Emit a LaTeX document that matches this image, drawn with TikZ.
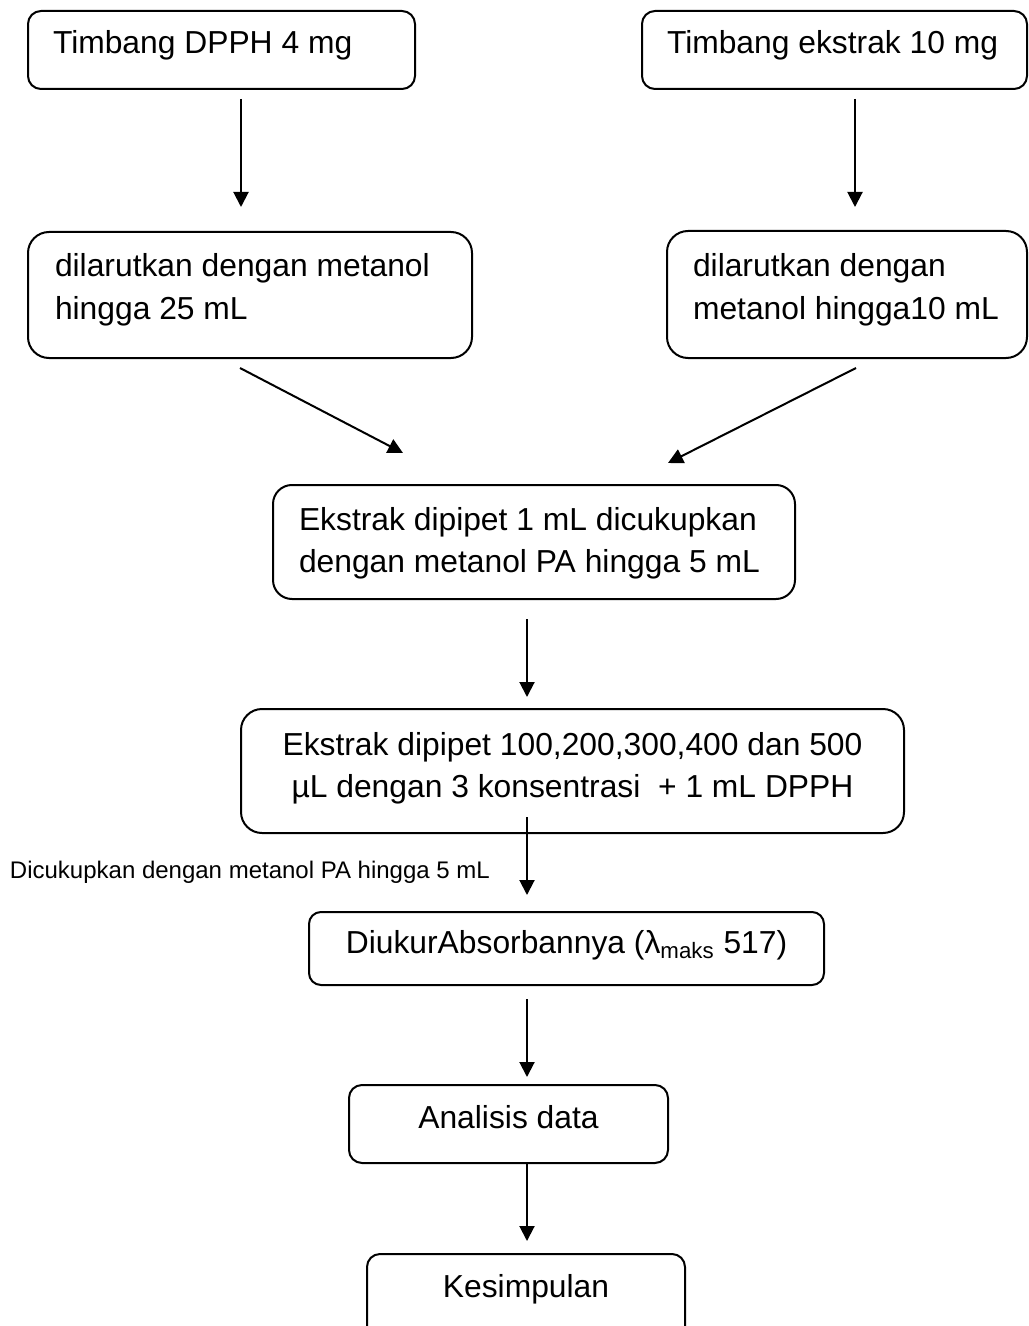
\documentclass[tikz,border=0pt]{standalone}
\usepackage{fontspec}
\setmainfont{Liberation Sans}
\usetikzlibrary{fit,arrows.meta}
\begin{document}
\begin{tikzpicture}[x=0.5pt,y=-0.5pt,
  box/.style={draw, line width=1pt, inner sep=0pt, outer sep=0pt},
  txt/.style={font=\fontsize{15.9}{21.5}\selectfont, inner sep=0pt, outer sep=0pt},
  note/.style={font=\fontsize{12}{14}\selectfont, inner sep=0pt, outer sep=0pt},
  arr/.style={line width=1pt, -{Triangle[length=7.5pt,width=7.5pt]}}]
\useasboundingbox (0,0) rectangle (1028,1326);
\clip (0,0) rectangle (1028,1326);

% boxes
\node[box, rounded corners=6.5pt, fit={(28,11)(415,89)}] (b1) {};
\node[box, rounded corners=6.5pt, fit={(642,11)(1027,89)}] (b2) {};
\node[box, rounded corners=10.5pt, fit={(28,232)(472,358)}] (b3) {};
\node[box, rounded corners=10.5pt, fit={(667,231)(1027,358)}] (b4) {};
\node[box, rounded corners=9.5pt, fit={(273,485)(795,599)}] (b5) {};
\node[box, rounded corners=10.5pt, fit={(241,709)(904,833)}] (b6) {};
\node[box, rounded corners=6pt, fit={(309,912)(824,985)}] (b7) {};
\node[box, rounded corners=6.5pt, fit={(349,1085)(668,1163)}] (b8) {};
\node[box, rounded corners=6.5pt, fit={(367,1254)(685,1340)}] (b9) {};

% texts
\node[txt, anchor=base west] (t1) at (53,54) {Timbang DPPH 4 mg};
\node[txt, anchor=base west] (t2) at (667,54) {Timbang ekstrak 10 mg};
\node[txt, anchor=base west] (t3a) at (55,277) {dilarutkan dengan metanol};
\node[txt, anchor=base west] (t3b) at (55,320) {hingga 25 mL};
\node[txt, anchor=base west] (t4a) at (693,277) {dilarutkan dengan};
\node[txt, anchor=base west] (t4b) at (693,320) {metanol hingga10 mL};
\node[txt, anchor=base west] (t5a) at (299,530) {Ekstrak dipipet 1 mL dicukupkan};
\node[txt, anchor=base west] (t5b) at (299,572) {dengan metanol PA hingga 5 mL};
\node[txt, anchor=base] (t6a) at (572.5,755) {Ekstrak dipipet 100,200,300,400 dan 500};
\node[txt, anchor=base] (t6b) at (572.5,797) {µL dengan 3 konsentrasi\ \ + 1 mL DPPH};
\node[txt, anchor=base] (t7) at (566.5,953) {DiukurAbsorbannya (λ\textsubscript{maks} 517)};
\node[txt, anchor=base] (t8) at (508.5,1128) {Analisis data};
\node[txt, anchor=base] (t9) at (526,1297) {Kesimpulan};
\node[note, anchor=base west] (n1) at (10,878) {Dicukupkan dengan metanol PA hingga 5 mL};

% connector end points
\coordinate (a1s) at (241,99);   \coordinate (a1e) at (241,207);
\coordinate (a2s) at (855,99);   \coordinate (a2e) at (855,207);
\coordinate (d1s) at (240,368);  \coordinate (d1e) at (403,453);
\coordinate (d2s) at (856,368);  \coordinate (d2e) at (668,463);
\coordinate (a3s) at (527,619);  \coordinate (a3e) at (527,697);
\coordinate (a4s) at (527,817);  \coordinate (a4e) at (527,895);
\coordinate (a5s) at (527,999);  \coordinate (a5e) at (527,1077);
\coordinate (a6s) at (527,1163); \coordinate (a6e) at (527,1241);

% connectors
\draw[arr] (a1s) -- (a1e);
\draw[arr] (a2s) -- (a2e);
\draw[arr] (d1s) -- (d1e);
\draw[arr] (d2s) -- (d2e);
\draw[arr] (a3s) -- (a3e);
\draw[arr] (a4s) -- (a4e);
\draw[arr] (a5s) -- (a5e);
\draw[arr] (a6s) -- (a6e);
\end{tikzpicture}
\end{document}
